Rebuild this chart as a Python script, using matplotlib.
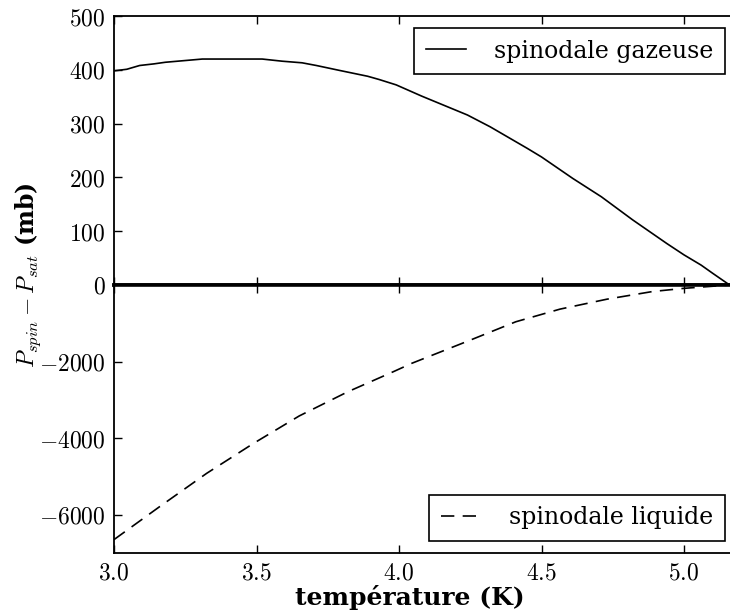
import numpy as np
import matplotlib
matplotlib.use("Agg")
import matplotlib.pyplot as plt
from matplotlib.ticker import FuncFormatter

plt.rcParams['font.family'] = 'DejaVu Serif'
plt.rcParams['mathtext.fontset'] = 'cm'

# spinodale gazeuse (top panel), P_spin - P_sat in mb
T_gaz = [3.0, 3.045, 3.09, 3.14, 3.18, 3.245, 3.31, 3.52, 3.59, 3.66, 3.71,
         3.79, 3.89, 3.93, 3.99, 4.08, 4.24, 4.32, 4.45, 4.50, 4.61, 4.71,
         4.82, 4.94, 5.00, 5.06, 5.10, 5.16]
P_gaz = [398, 401, 408, 411, 414, 417, 420, 420, 416, 413, 408,
         399, 388, 382, 372, 351, 316, 294, 254, 238, 198, 164,
         121, 77, 56, 37, 22, 0]

# spinodale liquide (bottom panel)
T_liq = [3.0, 3.16, 3.325, 3.49, 3.65, 3.82, 3.98, 4.045, 4.25, 4.41,
         4.565, 4.73, 4.89, 5.0, 5.16]
P_liq = [-6650, -5790, -4920, -4135, -3420, -2790, -2265, -2045, -1440, -960,
         -630, -370, -170, -87, 0]

top_yticks = [0, 100, 200, 300, 400, 500]
bot_yticks = [-6000, -4000, -2000]
xticks = [3.0, 3.5, 4.0, 4.5, 5.0]

W, H = 730, 613
fig = plt.figure(figsize=(W / 100, H / 100), dpi=100)

left, right = 114, 737
ax1 = fig.add_axes([left / W, (H - 285) / H, (right - left) / W, 269 / H])
ax2 = fig.add_axes([left / W, (H - 553) / H, (right - left) / W, 268 / H], sharex=ax1)

ax1.plot(T_gaz, P_gaz, color='k', lw=1.2, label='spinodale gazeuse')
ax2.plot(T_liq, P_liq, color='k', lw=1.2, linestyle=(0, (8, 5)),
         label='spinodale liquide')

ax1.set_xlim(3.0, 3.0 + (right - left) / 285.0)
ax1.set_ylim(0, 500)
ax2.set_ylim(-7000, 0)
ax1.set_yticks(top_yticks)
ax2.set_yticks(bot_yticks)
ax2.set_xticks(xticks)

fmt_y = FuncFormatter(lambda v, p: r'$%d$' % v)
fmt_x = FuncFormatter(lambda v, p: r'$%.1f$' % v)
ax1.yaxis.set_major_formatter(fmt_y)
ax2.yaxis.set_major_formatter(fmt_y)
ax2.xaxis.set_major_formatter(fmt_x)

for ax in (ax1, ax2):
    ax.tick_params(direction='in', length=6, width=1, top=True, right=False,
                   labelsize=17, pad=6)
    for s in ax.spines.values():
        s.set_linewidth(1.3)
ax1.spines['bottom'].set_linewidth(2.6)
ax2.spines['top'].set_linewidth(2.6)
plt.setp(ax1.get_xticklabels(), visible=False)

leg_kw = dict(fontsize=17, frameon=True, fancybox=False, framealpha=1,
              edgecolor='k', handlelength=1.7, handletextpad=1.2,
              borderpad=0.5, borderaxespad=0.5)
l1 = ax1.legend(loc='upper right', **leg_kw)
l2 = ax2.legend(loc='lower right', **leg_kw)
for l in (l1, l2):
    l.get_frame().set_linewidth(1.2)

fig.text(410 / W, 1 - 597 / H, 'température (K)', ha='center', va='center',
         fontsize=18, fontweight='bold')
fig.text(28 / W, 1 - 275 / H, r'$P_{spin} - P_{sat}$ (mb)', ha='center',
         va='center', rotation=90, fontsize=17, fontweight='bold')

fig.savefig('out.png', dpi=100)
